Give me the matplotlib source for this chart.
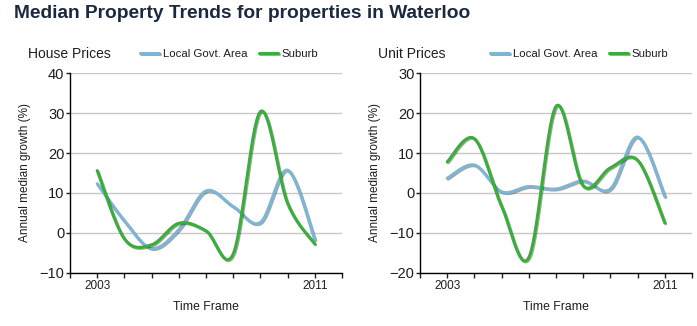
import numpy as np
import matplotlib.pyplot as plt
import matplotlib.patheffects as pe

plt.rcParams['font.family'] = ['Liberation Sans', 'DejaVu Sans']

# -----------------------------
# data (annual median growth, %)
# -----------------------------
years = [2003, 2004, 2005, 2006, 2007, 2008, 2009, 2010, 2011]

house_lga = [12.3, 3.0, -3.9, 0.8, 10.5, 6.6, 2.6, 15.7, -1.7]
house_suburb = [15.6, -1.5, -3.0, 2.4, 0.5, -5.3, 30.4, 7.4, -2.8]

unit_lga = [3.7, 7.0, 0.3, 1.6, 1.0, 3.0, 1.0, 14.0, -0.9]
unit_suburb = [7.8, 13.6, -3.3, -16.2, 21.7, 1.8, 6.3, 8.2, -7.5]

panel_titles = ["House Prices", "Unit Prices"]
y_limits = [(-10, 40), (-20, 30)]
series_names = ["Local Govt. Area", "Suburb"]
x_labels_shown = ["2003", "2011"]

BLUE = "#7db6d5"
GREEN = "#3aae3a"
TEXT = "#1e1e1e"


def cardinal_spline(x, y, tension=0.5, n=40):
    # same idea as the GDI+ curve that MS Chart draws
    x = np.asarray(x, float)
    y = np.asarray(y, float)
    pts = np.column_stack([x, y])
    ext = np.vstack([pts[0], pts, pts[-1]])
    out = []
    t = np.linspace(0, 1, n)[:, None]
    for i in range(len(pts) - 1):
        p0, p1, p2, p3 = ext[i], ext[i + 1], ext[i + 2], ext[i + 3]
        c1 = p1 + tension / 3 * (p2 - p0)
        c2 = p2 - tension / 3 * (p3 - p1)
        seg = ((1 - t) ** 3) * p1 + 3 * ((1 - t) ** 2) * t * c1 \
            + 3 * (1 - t) * t ** 2 * c2 + t ** 3 * p2
        out.append(seg if i == 0 else seg[1:])
    out = np.vstack(out)
    return out[:, 0], out[:, 1]


W, H = 697, 326
fig = plt.figure(figsize=(W / 100, H / 100), dpi=100)

fig.text(14 / W, 1 - 13 / H, "Median Property Trends for properties in Waterloo",
         fontsize=13.8, fontweight="bold", color="#1b2940", va="center", ha="left")

panels = [
    (0, house_lga, house_suburb),
    (350, unit_lga, unit_suburb),
]

shadow = [pe.SimpleLineShadow(offset=(0.7, -0.7), shadow_color="k", alpha=0.35),
          pe.Normal()]

for k, (x_off, lga, sub) in enumerate(panels):
    left, right, top, bottom = x_off + 70, x_off + 342, 73.3, 272.7
    ax = fig.add_axes([left / W, 1 - bottom / H, (right - left) / W, (bottom - top) / H])

    lx, ly = cardinal_spline(years, lga)
    sx, sy = cardinal_spline(years, sub)
    l1, = ax.plot(lx, ly, color=BLUE, lw=2.2, solid_capstyle="round",
                  path_effects=shadow, zorder=3)
    l2, = ax.plot(sx, sy, color=GREEN, lw=2.2, solid_capstyle="round",
                  path_effects=shadow, zorder=4)

    lo, hi = y_limits[k]
    ax.set_ylim(lo, hi)
    ax.set_xlim(2002, 2012)
    ax.set_yticks(np.arange(lo, hi + 1, 10))
    ax.set_xticks(np.arange(2002, 2013, 1))
    ax.set_xticklabels(["" if str(v) not in x_labels_shown else str(v)
                        for v in range(2002, 2013)])
    ax.grid(axis="y", color="#c8c8c8", lw=1)
    ax.set_axisbelow(True)
    for s in ["top", "right"]:
        ax.spines[s].set_visible(False)
    for s in ["left", "bottom"]:
        ax.spines[s].set_color("black")
        ax.spines[s].set_linewidth(1)
    ax.tick_params(axis="y", length=3, width=1, pad=1, labelsize=10.5, colors=TEXT)
    ax.tick_params(axis="x", length=3.5, width=1, pad=2, labelsize=8.5, colors=TEXT)
    ax.set_ylabel("Annual median growth (%)", fontsize=8.5, color=TEXT, labelpad=6)
    ax.set_xlabel("Time Frame", fontsize=8.8, color=TEXT, labelpad=6)

    fig.text((x_off + 28) / W, 1 - 54 / H, panel_titles[k], fontsize=10,
             color=TEXT, va="center", ha="left")
    fig.legend([l1, l2], series_names, loc="center left",
               bbox_to_anchor=((x_off + 140) / W, 1 - 54 / H),
               ncol=2, frameon=False, fontsize=8.2, handlelength=1.7,
               handletextpad=0.3, columnspacing=1.0, borderpad=0,
               borderaxespad=0, labelcolor=TEXT)

fig.savefig("out.png", dpi=100)
